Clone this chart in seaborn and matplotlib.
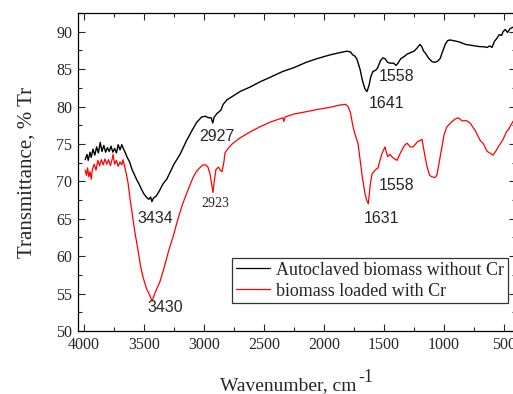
import numpy as np
import pandas as pd
import seaborn as sns
import matplotlib
matplotlib.use("Agg")
import matplotlib.pyplot as plt
from matplotlib.ticker import MultipleLocator

# wavenumber (cm-1) and transmittance (%)
wn_black = [3990, 3975, 3965, 3950, 3940, 3925, 3910, 3895, 3880, 3865, 3850, 3835, 3820, 3805,
            3790, 3775, 3760, 3745, 3730, 3715, 3700, 3685, 3670, 3655, 3640, 3620, 3600, 3580,
            3560, 3540, 3520, 3500, 3480, 3460, 3445, 3434, 3420, 3400, 3380, 3360, 3340, 3310,
            3280, 3250, 3200, 3150, 3100, 3060, 3020, 2990, 2960, 2940, 2927, 2915, 2890, 2860,
            2840, 2808, 2750, 2700, 2617, 2533, 2450, 2342, 2250, 2150, 2058, 1950, 1870, 1808,
            1780, 1760, 1740, 1725, 1700, 1680, 1660, 1642, 1625, 1610, 1592, 1575, 1560, 1550,
            1530, 1510, 1492, 1470, 1450, 1420, 1400, 1383, 1360, 1330, 1308, 1280, 1250, 1225,
            1200, 1185, 1170, 1158, 1130, 1100, 1075, 1050, 1033, 1010, 990, 970, 950, 920, 890,
            867, 820, 780, 740, 700, 675, 640, 620, 600, 580, 560, 540, 520, 508, 490, 470, 450,
            425, 410]
tr_black = [72.9, 73.6, 72.8, 73.9, 73.2, 74.3, 73.5, 74.6, 73.8, 75.2, 74.0, 74.8, 73.9, 74.5,
            74.0, 74.7, 73.9, 74.4, 73.8, 74.9, 74.2, 74.9, 74.3, 73.8, 73.2, 72.6, 71.6, 70.9,
            70.2, 69.6, 68.9, 68.3, 67.9, 67.6, 67.9, 67.3, 67.8, 68.0, 68.5, 69.1, 69.7, 70.3,
            71.3, 72.3, 73.6, 75.3, 76.8, 77.9, 78.6, 78.7, 78.5, 78.5, 77.8, 78.6, 79.1, 79.5,
            80.3, 80.9, 81.5, 82.0, 82.6, 83.3, 83.9, 84.7, 85.2, 85.9, 86.4, 86.9, 87.2, 87.4,
            87.3, 86.9, 86.7, 86.3, 85.0, 83.5, 82.4, 82.0, 82.8, 84.0, 84.7, 84.8, 85.0, 85.3,
            86.1, 86.5, 86.4, 85.9, 85.8, 85.8, 85.5, 85.8, 86.4, 86.7, 87.0, 87.2, 87.4, 87.8,
            88.3, 88.0, 87.4, 87.2, 86.5, 86.0, 85.9, 86.1, 86.4, 87.4, 88.3, 88.8, 88.9, 88.8, 88.7,
            88.6, 88.3, 88.2, 88.1, 88.0, 88.0, 87.9, 88.1, 87.9, 88.7, 89.1, 89.6, 89.5, 90.0, 90.3,
            89.9, 90.4, 90.6, 90.4]

wn_red = [3990, 3980, 3970, 3960, 3950, 3940, 3930, 3915, 3900, 3885, 3870, 3855, 3840, 3825,
          3810, 3795, 3780, 3765, 3758, 3745, 3730, 3715, 3700, 3685, 3675, 3660, 3645, 3633,
          3615, 3595, 3575, 3550, 3530, 3508, 3480, 3450, 3433, 3415, 3395, 3367, 3330, 3295,
          3258, 3220, 3180, 3142, 3110, 3092, 3060, 3030, 3008, 2985, 2967, 2950, 2935, 2925,
          2915, 2900, 2880, 2860, 2850, 2835, 2825, 2800, 2758, 2700, 2617, 2533, 2450, 2380,
          2342, 2335, 2325, 2250, 2150, 2058, 1950, 1867, 1820, 1800, 1780, 1758, 1740, 1717,
          1700, 1680, 1660, 1645, 1631, 1615, 1600, 1575, 1550, 1520, 1492, 1470, 1450, 1430,
          1392, 1360, 1330, 1308, 1280, 1258, 1220, 1183, 1160, 1142, 1120, 1100, 1075, 1058,
          1030, 1000, 975, 940, 910, 883, 850, 810, 783, 740, 700, 675, 640, 610, 592, 570, 540,
          508, 480, 460, 440, 425, 410]
tr_red = [71.5, 70.8, 71.8, 70.6, 71.3, 70.3, 71.6, 72.3, 71.5, 72.8, 72.1, 72.9, 72.2, 73.0,
          72.3, 72.9, 72.1, 73.0, 73.6, 72.3, 72.8, 72.0, 72.6, 72.2, 72.9, 71.9, 70.8, 69.8,
          67.5, 65.3, 63.1, 60.8, 58.8, 57.2, 55.7, 54.7, 54.0, 54.8, 55.6, 56.6, 58.6, 60.7,
          62.6, 64.8, 66.9, 68.5, 69.8, 70.5, 71.4, 71.9, 72.2, 72.2, 71.9, 71.0, 69.5, 68.5,
          70.0, 71.6, 71.9, 71.4, 71.3, 72.5, 73.8, 74.4, 75.1, 75.8, 76.6, 77.3, 77.9, 78.3,
          78.5, 78.0, 78.6, 79.0, 79.3, 79.6, 79.9, 80.2, 80.3, 80.0, 79.2, 77.3, 76.2, 75.1,
          73.0, 70.5, 68.5, 67.5, 67.0, 69.5, 71.0, 71.5, 71.8, 73.6, 74.6, 73.3, 73.6, 73.2,
          72.8, 73.9, 74.8, 75.1, 74.6, 74.6, 75.3, 75.6, 73.5, 72.0, 70.8, 70.6, 70.5, 70.9,
          73.5, 76.2, 77.3, 77.9, 78.3, 78.5, 78.1, 78.1, 77.8, 76.8, 75.5, 75.1, 74.0, 73.7,
          73.5, 74.0, 74.8, 75.6, 76.6, 77.0, 77.6, 78.0, 78.3]

series_names = ["Autoclaved biomass without Cr", "biomass loaded with Cr"]

# peak labels: text and the (wavenumber, transmittance) spot where it sits
peak_text = ["2927", "3434", "3430", "1558", "1641", "1558", "1631", "2923"]
peak_wn = [2892, 3408, 3325, 1392, 1475, 1392, 1517, 2908]
peak_tr = [76.0, 65.1, 53.1, 84.0, 80.4, 69.5, 65.0, 67.0]

sns.set_style("ticks")
plt.rcParams["font.family"] = ["Liberation Serif", "DejaVu Serif"]

fig = plt.figure(figsize=(5.13, 3.94), dpi=100)
ax = fig.add_axes([78 / 513, 63 / 394, 438 / 513, 318 / 394])

df_black = pd.DataFrame({"wn": wn_black, "tr": tr_black})
df_red = pd.DataFrame({"wn": wn_red, "tr": tr_red})
sns.lineplot(data=df_black, x="wn", y="tr", color="black", lw=1.0, sort=False,
             label=series_names[0], ax=ax)
sns.lineplot(data=df_red, x="wn", y="tr", color="red", lw=0.9, sort=False,
             label=series_names[1], ax=ax)

ax.set_xlim(4050, 400)
ax.set_ylim(50, 92.5)
ax.xaxis.set_major_locator(MultipleLocator(500))
ax.xaxis.set_minor_locator(MultipleLocator(250))
ax.yaxis.set_major_locator(MultipleLocator(5))
ax.yaxis.set_minor_locator(MultipleLocator(2.5))
ax.tick_params(which="both", direction="in", top=True, right=True, labelsize=11.5, width=0.8)
ax.tick_params(which="major", length=5, pad=4)
ax.tick_params(which="minor", length=3)
for s in ax.spines.values():
    s.set_linewidth(0.9)
    s.set_color("black")

ax.set_xlabel("Wavenumber, cm", fontsize=14, labelpad=18)
ax.xaxis.label.set_x(0.5 - 9 / 438)
ax.set_ylabel("Transmittance, % Tr", fontsize=15, labelpad=14)

for t, w, y in zip(peak_text, peak_wn, peak_tr):
    if t == "2923":
        ax.text(w, y, t, fontsize=10, ha="center", va="center",
                family=["Liberation Serif"])
    else:
        ax.text(w, y, t, fontsize=11.5, ha="center", va="center",
                family=["Liberation Sans"])

leg = ax.legend(loc="upper left", bbox_to_anchor=(232 / 513, 1 - 258 / 394),
                bbox_transform=fig.transFigure, borderaxespad=0, fontsize=13,
                frameon=True, fancybox=False, handlelength=1.9, handletextpad=0.35,
                labelspacing=0.22, borderpad=0.2)
leg.get_frame().set_edgecolor("black")
leg.get_frame().set_linewidth(0.9)
for line in leg.get_lines():
    line.set_linewidth(0.9)

# superscript "-1" after the x label, as large as in the original
fig.canvas.draw()
bb = ax.xaxis.label.get_window_extent()
fig.text((bb.x1 + 2) / 513, (bb.y1 + 9) / 394, "-1", fontsize=13, ha="left", va="top")

fig.savefig("out.png", dpi=100)
